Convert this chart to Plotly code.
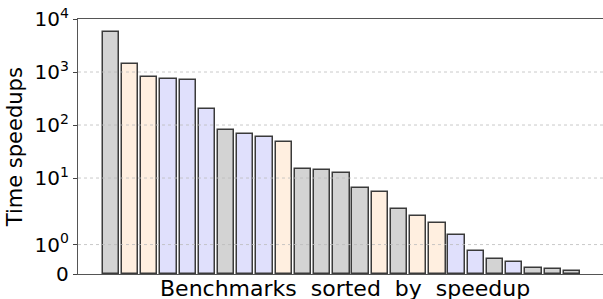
import math
import plotly.graph_objects as go

# ---- data ----
benchmarks = list(range(25))
speedups = [5800, 1430, 790, 736, 694, 205, 80, 67, 59, 47,
            14.7, 14.1, 12.7, 6.4, 5.4, 2.6, 1.97, 1.74, 1.32, 0.79,
            0.50, 0.41, 0.21, 0.18, 0.10]
groups = ["g", "o", "o", "b", "b", "b", "g", "b", "b", "o",
          "g", "g", "g", "g", "o", "g", "o", "o", "b", "b",
          "g", "b", "g", "g", "g"]
tick_values = [0, 1, 10, 100, 1000, 10000]
tick_labels = ["0", "10<sup>0</sup>", "10<sup>1</sup>", "10<sup>2</sup>",
               "10<sup>3</sup>", "10<sup>4</sup>"]

group_colors = {"g": "#d3d3d3", "o": "#ffefe0", "b": "#e0e0fc"}

# symlog transform (linthresh=2, linscale=1, base 10)
LINTHRESH = 2.0
LINSCALE_ADJ = 1.0 / (1.0 - 1.0 / 10.0)


def symlog(v):
    if v <= LINTHRESH:
        return v / LINTHRESH * LINSCALE_ADJ
    return LINSCALE_ADJ + math.log10(v / LINTHRESH)


y_t = [symlog(v) for v in speedups]
tick_t = [symlog(v) for v in tick_values]

fig = go.Figure()
fig.add_trace(go.Bar(
    x=benchmarks, y=y_t, width=0.85,
    marker=dict(color=[group_colors[g] for g in groups],
                line=dict(color="#3a3a3a", width=1.5)),
    customdata=speedups,
    hovertemplate="%{customdata}<extra></extra>",
))

# dotted grid lines drawn above bars
for t in tick_t[1:-1]:
    fig.add_shape(type="line", xref="paper", x0=0, x1=1, yref="y", y0=t, y1=t,
                  line=dict(color="#bcbcbc", width=0.8, dash="dot"), layer="above")

fig.update_layout(
    width=603, height=299,
    margin=dict(l=78, r=0, t=19, b=25),
    paper_bgcolor="white", plot_bgcolor="white",
    showlegend=False,
    bargap=0,
    font=dict(family="DejaVu Sans", color="black"),
    xaxis=dict(range=[-1.71, 25.62], showticklabels=False, ticks="",
               showgrid=False, zeroline=False,
               showline=True, mirror=True, linecolor="#555555", linewidth=1.3),
    yaxis=dict(range=[0, symlog(10000)], tickmode="array",
               tickvals=tick_t, ticktext=tick_labels,
               ticks="outside", ticklen=4, tickcolor="#444444",
               tickfont=dict(size=20, family="DejaVu Sans", color="black"),
               showgrid=False, zeroline=False,
               showline=True, mirror=False, linecolor="#555555", linewidth=1.3),
    annotations=[
        dict(text="Benchmarks  sorted  by  speedup", xref="paper", yref="paper",
             x=0.508, y=-0.055, xanchor="center", yanchor="middle",
             showarrow=False, font=dict(size=22, family="DejaVu Sans", color="black")),
        dict(text="Time speedups", xref="paper", yref="paper",
             x=-0.12, y=0.497, xanchor="center", yanchor="middle", textangle=-90,
             showarrow=False, font=dict(size=21, family="DejaVu Sans", color="black")),
    ],
)

fig.write_html("out.html", config={"displayModeBar": False},
               post_script="document.body.style.margin='0';")
